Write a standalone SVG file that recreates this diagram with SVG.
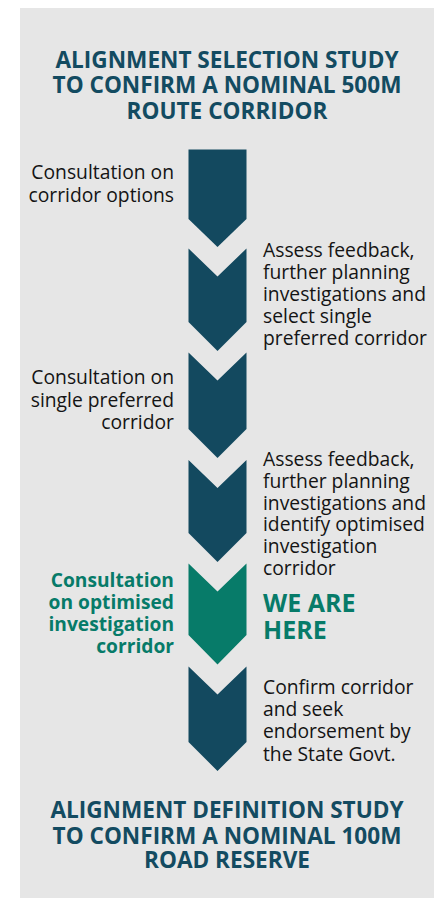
<svg xmlns="http://www.w3.org/2000/svg" width="434" height="898" viewBox="0 0 434 898">
<style>
.bg{fill:#e6e6e6}
.chev{fill:#13495f}
.here{fill:#077b69}
.title{font-family:"Open Sans","Noto Sans","DejaVu Sans",sans-serif;font-weight:700;font-size:22.6px;fill:#134b61;text-anchor:middle}
.body{font-family:"Open Sans","Noto Sans","DejaVu Sans",sans-serif;font-size:19.3px;fill:#141414}
.left{text-anchor:end}
.gbody{font-family:"Open Sans","Noto Sans","DejaVu Sans",sans-serif;font-weight:700;font-size:19.2px;fill:#077b69;text-anchor:end}
.big{font-family:"Open Sans","Noto Sans","DejaVu Sans",sans-serif;font-weight:700;font-size:25px;fill:#077b69}
</style>
<rect class="bg" x="20" y="8" width="414" height="890"/>
<g id="title-top">
<text class="title"><tspan x="227" y="67.7">ALIGNMENT SELECTION STUDY</tspan><tspan x="227" y="93.3">TO CONFIRM A NOMINAL 500M</tspan><tspan x="227" y="119">ROUTE CORRIDOR</tspan></text>
</g>
<g id="connectors"></g>
<g id="step1">
<path class="chev" d="M188.5,149.5 H246.5 V219 L217.5,247 L188.5,219 Z"/>
<text class="body left"><tspan x="174" y="179">Consultation on</tspan><tspan x="174" y="202">corridor options</tspan></text>
</g>
<g id="step2">
<path class="chev" d="M188.5,248.5 L217.5,276.5 L246.5,248.5 V322 L217.5,351 L188.5,322 Z"/>
<text class="body"><tspan x="263" y="257">Assess feedback,</tspan><tspan x="263" y="279">further planning</tspan><tspan x="263" y="301">investigations and</tspan><tspan x="263" y="323">select single</tspan><tspan x="263" y="345">preferred corridor</tspan></text>
</g>
<g id="step3">
<path class="chev" d="M188.5,352.5 L217.5,380.5 L246.5,352.5 V429 L217.5,458 L188.5,429 Z"/>
<text class="body left"><tspan x="174" y="384.3">Consultation on</tspan><tspan x="174" y="406.5">single preferred</tspan><tspan x="174" y="429">corridor</tspan></text>
</g>
<g id="step4">
<path class="chev" d="M188.5,460 L217.5,488 L246.5,460 V533 L217.5,562 L188.5,533 Z"/>
<text class="body"><tspan x="263" y="466">Assess feedback,</tspan><tspan x="263" y="487.8">further planning</tspan><tspan x="263" y="509.6">investigations and</tspan><tspan x="263" y="531.4">identify optimised</tspan><tspan x="263" y="553.2">investigation</tspan><tspan x="263" y="575">corridor</tspan></text>
</g>
<g id="step5">
<path class="here" d="M188.5,563.5 L217.5,591.5 L246.5,563.5 V635 L217.5,664.5 L188.5,635 Z"/>
<text class="gbody"><tspan x="174" y="587.3">Consultation</tspan><tspan x="174" y="609.3">on optimised</tspan><tspan x="174" y="631">investigation</tspan><tspan x="174" y="652.7">corridor</tspan></text>
<text class="big"><tspan x="263" y="611.7">WE ARE</tspan><tspan x="263" y="639">HERE</tspan></text>
</g>
<g id="step6">
<path class="chev" d="M188.5,666.5 L217.5,694.5 L246.5,666.5 V742 L217.5,771 L188.5,742 Z"/>
<text class="body"><tspan x="263" y="694">Confirm corridor</tspan><tspan x="263" y="716.2">and seek</tspan><tspan x="263" y="738.4">endorsement by</tspan><tspan x="263" y="760.6">the State Govt.</tspan></text>
</g>
<g id="title-bottom">
<text class="title"><tspan x="227" y="818.3">ALIGNMENT DEFINITION STUDY</tspan><tspan x="227" y="843.8">TO CONFIRM A NOMINAL 100M</tspan><tspan x="227" y="868.3">ROAD RESERVE</tspan></text>
</g>
</svg>
